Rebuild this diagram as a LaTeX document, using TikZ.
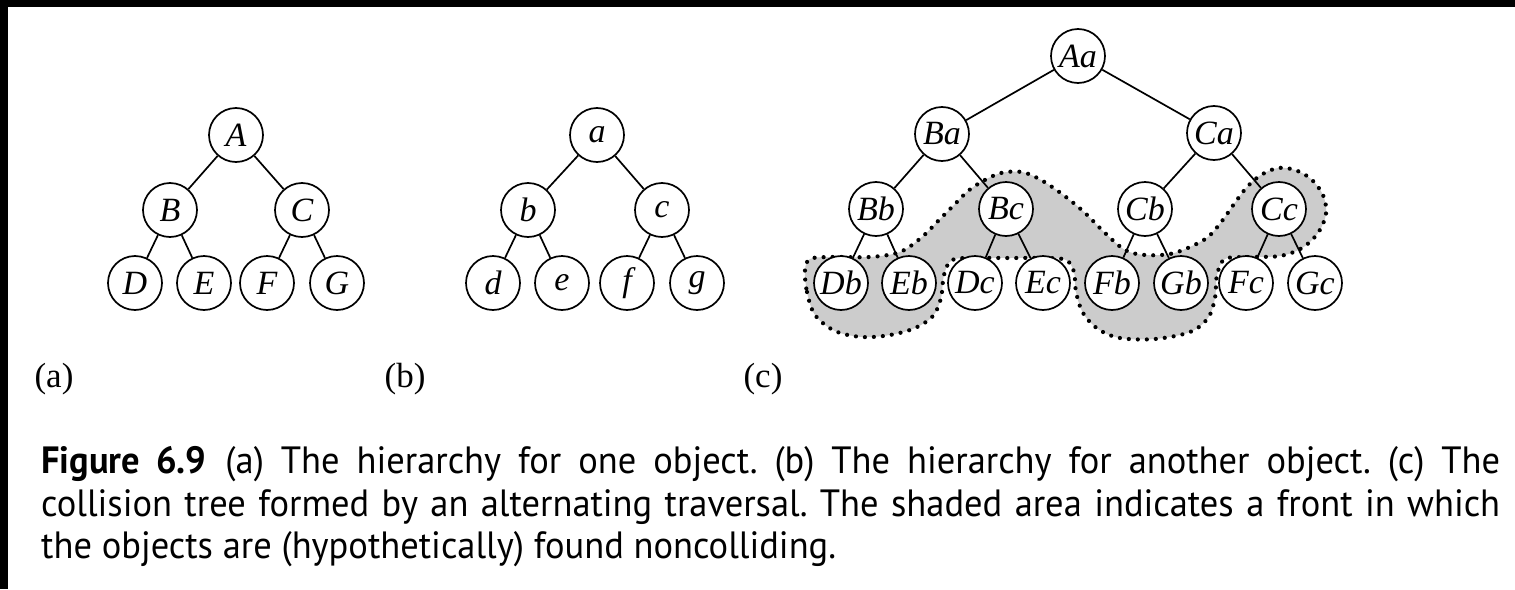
\documentclass[tikz,border=0pt]{standalone}
\usepackage{fontspec}
\setmainfont{Liberation Serif}
\newfontfamily\capfont{PT Sans}[FakeStretch=0.96]
\frenchspacing
\begin{document}
\begin{tikzpicture}[x=1pt,y=-1pt,
  vertex/.style={circle,draw,line width=1.7pt,fill=white,minimum size=54pt,inner sep=0pt,
    font=\fontsize{34}{34}\selectfont\itshape},
  link/.style={line width=1.7pt},
  sublabel/.style={inner sep=0pt,font=\fontsize{35}{35}\selectfont},
  captionline/.style={anchor=base west,inner sep=0pt,font=\capfont\fontsize{38}{40}\selectfont},
  front/.style={fill=black!20,draw=black,line width=4.2pt,dash pattern=on 0pt off 9pt,line cap=round}]
\useasboundingbox (0,0) rectangle (1515,589);
\fill[white] (0,0) rectangle (1515,589);
% scanned page edge
\fill[black] (0,0) rectangle (1515,7);
\fill[black] (0,0) rectangle (8,589);

% shaded front of noncolliding pairs
\draw[front] plot[smooth cycle, tension=0.55] coordinates {
  (805,270) (807,292) (815,315) (835,331) (862,337) (890,335) (915,328) (933,316)
  (941,298) (944,275) (952,260) (975,258) (1010,258) (1045,258) (1066,260) (1074,272)
  (1076,292) (1083,313) (1098,329) (1120,338) (1155,339) (1190,332) (1208,318) (1215,298)
  (1217,275) (1225,259) (1250,257) (1280,256) (1302,248) (1318,233) (1326,214) (1323,195)
  (1311,179) (1295,170) (1278,168) (1261,175) (1247,187) (1234,204) (1222,221) (1208,237)
  (1190,247) (1170,254) (1145,255) (1125,250) (1104,232) (1084,212) (1062,194) (1041,180)
  (1022,172) (1001,173) (983,181) (968,191) (955,204) (940,219) (922,237) (900,252)
  (870,257) (830,257) (810,259)};

% (a) hierarchy of the first object
\node[vertex] (aA) at (236,135) {A};
\node[vertex] (aB) at (170,210) {B};
\node[vertex] (aC) at (302,210) {C};
\node[vertex] (aD) at (135,283) {D};
\node[vertex] (aE) at (204,283) {E};
\node[vertex] (aF) at (267,283) {F};
\node[vertex] (aG) at (337,283) {G};
\draw[link] (aA) -- (aB); \draw[link] (aA) -- (aC);
\draw[link] (aB) -- (aD); \draw[link] (aB) -- (aE);
\draw[link] (aC) -- (aF); \draw[link] (aC) -- (aG);

% (b) hierarchy of the second object
\node[vertex] (ba) at (597,135) {a};
\node[vertex] (bb) at (528,210) {b};
\node[vertex] (bc) at (662,210) {c};
\node[vertex] (bd) at (493,283) {d};
\node[vertex] (be) at (562,283) {e};
\node[vertex] (bf) at (627,283) {f};
\node[vertex] (bg) at (697,283) {g};
\draw[link] (ba) -- (bb); \draw[link] (ba) -- (bc);
\draw[link] (bb) -- (bd); \draw[link] (bb) -- (be);
\draw[link] (bc) -- (bf); \draw[link] (bc) -- (bg);

% (c) collision tree
\node[vertex] (cAa) at (1078,56) {Aa};
\node[vertex] (cBa) at (942,134) {Ba};
\node[vertex] (cCa) at (1214,133) {Ca};
\node[vertex] (cBb) at (876,209) {Bb};
\node[vertex] (cBc) at (1006,209) {Bc};
\node[vertex] (cCb) at (1145,209) {Cb};
\node[vertex] (cCc) at (1279,209) {Cc};
\node[vertex] (cDb) at (841,283) {Db};
\node[vertex] (cEb) at (909,283) {Eb};
\node[vertex] (cDc) at (975,283) {Dc};
\node[vertex] (cEc) at (1043,283) {Ec};
\node[vertex] (cFb) at (1112,283) {Fb};
\node[vertex] (cGb) at (1181,283) {Gb};
\node[vertex] (cFc) at (1246,283) {Fc};
\node[vertex] (cGc) at (1315,283) {Gc};
\draw[link] (cAa) -- (cBa); \draw[link] (cAa) -- (cCa);
\draw[link] (cBa) -- (cBb); \draw[link] (cBa) -- (cBc);
\draw[link] (cCa) -- (cCb); \draw[link] (cCa) -- (cCc);
\draw[link] (cBb) -- (cDb); \draw[link] (cBb) -- (cEb);
\draw[link] (cBc) -- (cDc); \draw[link] (cBc) -- (cEc);
\draw[link] (cCb) -- (cFb); \draw[link] (cCb) -- (cGb);
\draw[link] (cCc) -- (cFc); \draw[link] (cCc) -- (cGc);

% part labels
\node[sublabel] (la) at (54,379) {(a)};
\node[sublabel] (lb) at (405,379) {(b)};
\node[sublabel] (lc) at (763,379) {(c)};

% caption
\node[captionline] (cap1) at (41,473) {\makebox[1459pt][s]{{\bfseries Figure 6.9}\hspace{0.5em}(a) The hierarchy for one object. (b) The hierarchy for another object. (c) The}};
\node[captionline] (cap2) at (41,516) {\makebox[1459pt][s]{collision tree formed by an alternating traversal. The shaded area indicates a front in which}};
\node[captionline] (cap3) at (41,558) {the objects are (hypothetically) found noncolliding.};
\end{tikzpicture}
\end{document}
